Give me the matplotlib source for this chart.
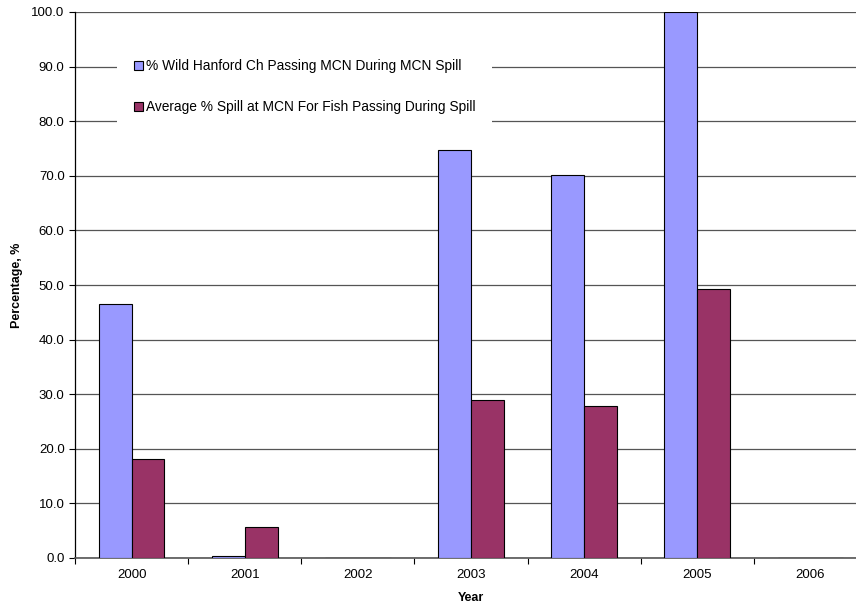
import numpy as np
import matplotlib.pyplot as plt
from matplotlib.patches import Rectangle

plt.rcParams['font.family'] = ['Liberation Sans', 'DejaVu Sans']

# data
years = ['2000', '2001', '2002', '2003', '2004', '2005', '2006']
wild_passing = [46.5, 0.3, 0.0, 74.8, 70.1, 100.0, 0.0]
avg_spill = [18.1, 5.6, 0.0, 28.9, 27.8, 49.3, 0.0]

W, H = 856, 609
fig = plt.figure(figsize=(W / 100, H / 100), dpi=100)
# plot area runs past the right edge of the figure
ax = fig.add_axes([75 / W, 1 - 558 / H, 792 / W, 546 / H])

x = np.arange(len(years))
bw = 0.29
ax.bar(x - bw / 2, wild_passing, bw, color='#9999ff', edgecolor='black', linewidth=0.8,
       label='% Wild Hanford Ch Passing MCN During MCN Spill', zorder=3)
ax.bar(x + bw / 2, avg_spill, bw, color='#993366', edgecolor='black', linewidth=0.8,
       label='Average % Spill at MCN For Fish Passing During Spill', zorder=3)

ax.set_xlim(-0.5, len(years) - 0.5)
ax.set_ylim(0, 100)
ax.set_yticks(np.arange(0, 101, 10))
ax.set_yticklabels([f'{v:.1f}' for v in np.arange(0, 101, 10)], fontsize=9.5)
ax.yaxis.grid(True, color='#555555', linewidth=0.9, zorder=0)
ax.set_axisbelow(True)

# year labels centred, tick marks between categories
ax.set_xticks(x)
ax.set_xticklabels(years, fontsize=9.5)
ax.tick_params(axis='x', length=0, pad=8)
ax.set_xticks(np.arange(-0.5, len(years), 1), minor=True)
ax.tick_params(axis='x', which='minor', length=4, width=0.8, direction='out')
ax.tick_params(axis='y', length=4, width=0.8, direction='out')

for s in ['top', 'right']:
    ax.spines[s].set_visible(False)
ax.spines['left'].set_linewidth(0.9)
ax.spines['bottom'].set_color('#555555')
ax.spines['bottom'].set_linewidth(1.2)

ax.set_ylabel('Percentage, %', fontsize=9, fontweight='bold', labelpad=6)
ax.set_xlabel('Year', fontsize=9, fontweight='bold', labelpad=8)

# white backing for the legend, wider than the legend itself
ax.add_patch(Rectangle((117 / W, 1 - 132 / H), 375 / W, 90 / H,
                       transform=fig.transFigure, facecolor='white',
                       edgecolor='none', zorder=2, clip_on=False))

leg = ax.legend(loc='upper left', bbox_to_anchor=(119 / W, 1 - 44 / H),
                bbox_transform=fig.transFigure, fontsize=9.9, frameon=False,
                handlelength=0.65, handleheight=0.65, handletextpad=0.25,
                labelspacing=1.97, borderpad=0.6)
leg.set_zorder(6)
for h in leg.legend_handles:
    h.set_linewidth(0.8)

fig.savefig('out.png', dpi=100)
